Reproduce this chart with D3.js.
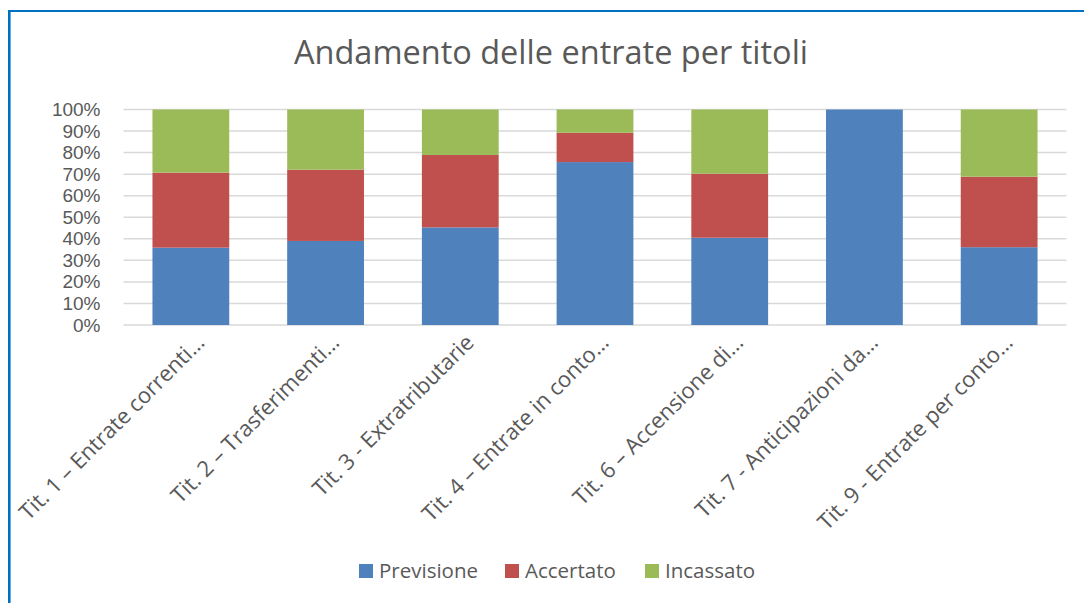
<!DOCTYPE html>
<html>
<head>
<meta charset="utf-8">
<script src="https://cdn.jsdelivr.net/npm/d3@7"></script>
<style>
  body { margin: 0; background: #fff; }
  svg { display: block; font-family: "Open Sans", sans-serif; }
</style>
</head>
<body>
<svg id="chart" width="1084" height="603"></svg>
<script>
// data (share of each title, in %)
var categories = [
    "Tit. 1 – Entrate correnti…",
    "Tit. 2 – Trasferimenti…",
    "Tit. 3 - Extratributarie",
    "Tit. 4 – Entrate in conto…",
    "Tit. 6 – Accensione di…",
    "Tit. 7 - Anticipazioni da…",
    "Tit. 9 - Entrate per conto…"
];
var seriesNames = ["Previsione", "Accertato", "Incassato"];
var previsione = [35.9, 39.0, 45.3, 75.6, 40.5, 100, 36.1];
var accertato  = [34.8, 33.1, 33.6, 13.6, 29.7, 0, 32.7];
var incassato  = [29.3, 27.9, 21.1, 10.8, 29.8, 0, 31.2];
var yTicks = [0, 10, 20, 30, 40, 50, 60, 70, 80, 90, 100];
var colors = ["#4f81bd", "#c0504d", "#9bbb59"];

var svg = d3.select("#chart");
var margin = {top: 109.5, left: 123.5, right: 17.5, bottom: 278};
var w = 1084 - margin.left - margin.right;
var h = 603 - margin.top - margin.bottom;

// frame
svg.append("line").attr("x1", 8).attr("x2", 1084).attr("y1", 11).attr("y2", 11)
    .attr("stroke", "#0070c0").attr("stroke-width", 2);
svg.append("line").attr("x1", 9.3).attr("x2", 9.3).attr("y1", 10).attr("y2", 603)
    .attr("stroke", "#0070c0").attr("stroke-width", 2.6);

// title
svg.append("text")
    .attr("x", 551)
    .attr("y", 64)
    .attr("text-anchor", "middle")
    .style("font-size", "32.5px")
    .attr("fill", "#595959")
    .text("Andamento delle entrate per titoli");

var g = svg.append("g").attr("transform", "translate(" + margin.left + "," + margin.top + ")");

var x = d3.scaleBand().domain(categories).range([0, w]).paddingInner(0.43).paddingOuter(0.215);
var y = d3.scaleLinear().domain([0, 100]).range([h, 0]);

// gridlines
g.selectAll("line.grid")
    .data(yTicks)
    .enter()
    .append("line")
    .attr("class", "grid")
    .attr("x1", 0).attr("x2", w)
    .attr("y1", function(d) { return y(d); })
    .attr("y2", function(d) { return y(d); })
    .attr("stroke", "#d9d9d9")
    .attr("stroke-width", 1.5);

// y axis
var yAxis = g.append("g")
    .call(d3.axisLeft(y).tickValues(yTicks).tickSize(0).tickPadding(23)
        .tickFormat(function(d) { return d + "%"; }));
yAxis.select(".domain").remove();
yAxis.selectAll("text")
    .attr("fill", "#595959")
    .style("font-size", "19px")
    .style("font-family", "Liberation Sans");

// stacked bars
var rows = categories.map(function(c, i) {
    return {cat: c, Previsione: previsione[i], Accertato: accertato[i], Incassato: incassato[i]};
});
var stacked = d3.stack().keys(seriesNames)(rows);

g.selectAll("g.series")
    .data(stacked)
    .enter()
    .append("g")
    .attr("class", "series")
    .attr("fill", function(d, i) { return colors[i]; })
    .selectAll("rect")
    .data(function(d) { return d; })
    .enter()
    .append("rect")
    .attr("x", function(d) { return x(d.data.cat); })
    .attr("y", function(d) { return y(d[1]); })
    .attr("height", function(d) { return y(d[0]) - y(d[1]); })
    .attr("width", x.bandwidth());

// x labels
var xAxis = g.append("g")
    .attr("transform", "translate(0," + h + ")")
    .call(d3.axisBottom(x).tickSize(0).tickPadding(0));
xAxis.select(".domain").remove();
xAxis.selectAll("text")
    .attr("fill", "#595959")
    .style("font-size", "22px")
    .style("font-family", "Open Sans")
    .attr("text-anchor", "end")
    .attr("dy", "0")
    .attr("transform", "translate(15,19) rotate(-45)");

// legend
var legendX = [359, 505, 645];
var legend = svg.append("g");
seriesNames.forEach(function(s, i) {
    legend.append("rect")
        .attr("x", legendX[i]).attr("y", 564)
        .attr("width", 14).attr("height", 14)
        .attr("fill", colors[i]);
    legend.append("text")
        .attr("x", legendX[i] + 20).attr("y", 578)
        .attr("fill", "#595959")
        .style("font-size", "20.5px")
        .text(s);
});
</script>
</body>
</html>
